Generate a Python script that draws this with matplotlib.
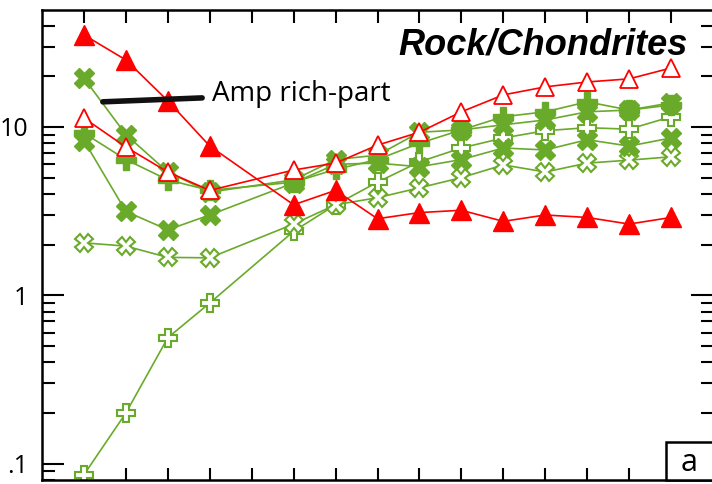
import matplotlib.pyplot as plt
from matplotlib.patches import Rectangle
from matplotlib.ticker import FixedLocator, FuncFormatter

# REE positions (Pm left out, slot 5 stays empty)
elements = ['La', 'Ce', 'Pr', 'Nd', 'Sm', 'Eu', 'Gd', 'Tb', 'Dy', 'Ho', 'Er', 'Tm', 'Yb', 'Lu']
xpos = [1, 2, 3, 4, 6, 7, 8, 9, 10, 11, 12, 13, 14, 15]

red_filled = [35.2, 25.0, 14.3, 7.7, 3.45, 4.2, 2.85, 3.1, 3.2, 2.75, 3.0, 2.9, 2.65, 2.9]
red_open = [11.3, 7.6, 5.4, 4.2, 5.55, 6.1, 7.8, 9.3, 12.3, 15.5, 17.3, 18.5, 19.3, 22.4]

green_x_a = [19.5, 9.0, 5.4, 4.1, 4.85, 6.4, 6.8, 9.3, 9.6, 10.3, 11.0, 12.3, 12.6, 13.9]
green_plus = [9.2, 6.4, 4.85, 4.2, 4.7, 5.6, 6.4, 8.0, 9.6, 11.5, 12.3, 14.1, 12.6, 13.5]
green_x_b = [8.3, 3.15, 2.45, 3.0, 4.65, 6.0, 6.1, 5.8, 6.4, 7.5, 7.3, 8.4, 7.7, 8.6]
green_open_x = [2.05, 1.96, 1.68, 1.67, 2.65, 3.45, 3.8, 4.35, 5.0, 5.95, 5.4, 6.1, 6.35, 6.65]
green_open_plus = [0.086, 0.2, 0.56, 0.9, 2.4, 3.45, 4.7, 6.2, 7.5, 8.6, 9.5, 9.9, 9.7, 11.5]

GREEN = '#6aaa2a'
RED = '#ff0000'

fig = plt.figure(figsize=(7.12, 4.84), dpi=100)
ax = fig.add_axes([42 / 712, 4 / 484, 671 / 712, 470 / 484])

# green samples
ax.plot(xpos, green_open_plus, color=GREEN, lw=1.2, marker='P', ms=12.5,
        mfc='white', mec=GREEN, mew=1.5)
ax.plot(xpos, green_open_x, color=GREEN, lw=1.2, marker='X', ms=12.5,
        mfc='white', mec=GREEN, mew=1.5)
ax.plot(xpos, green_x_b, color=GREEN, lw=1.2, marker='X', ms=14, mec=GREEN, mfc=GREEN)
ax.plot(xpos, green_plus, color=GREEN, lw=1.2, marker='P', ms=14, mec=GREEN, mfc=GREEN)
ax.plot(xpos, green_x_a, color=GREEN, lw=1.2, marker='X', ms=14, mec=GREEN, mfc=GREEN)

# red samples
ax.plot(xpos, red_open, color=RED, lw=1.2, marker='^', ms=13,
        mfc='white', mec=RED, mew=1.3)
ax.plot(xpos, red_filled, color=RED, lw=1.2, marker='^', ms=14, mfc=RED, mec=RED)

ax.set_yscale('log')
ax.set_ylim(0.08, 49.5)
ax.set_xlim(0, 16)

ax.xaxis.set_major_locator(FixedLocator(range(1, 16)))
ax.set_xticklabels([])
ax.tick_params(axis='x', which='both', direction='in', top=True, bottom=True,
               length=9, width=1.5)
ax.tick_params(axis='y', which='major', direction='in', left=True, right=True,
               length=16, width=1.5, labelsize=18, pad=10)
ax.tick_params(axis='y', which='minor', direction='in', left=True, right=True,
               length=9, width=1.5)
ax.yaxis.set_major_formatter(FuncFormatter(
    lambda v, p: {0.1: '.1', 1: '1', 10: '10'}.get(round(v, 3), '')))
for lab in ax.get_yticklabels():
    lab.set_family('Open Sans')

for sp in ax.spines.values():
    sp.set_linewidth(1.8)

ax.text(0.963, 0.926, 'Rock/Chondrites', transform=ax.transAxes, ha='right',
        va='center', fontsize=26, fontweight='bold', fontstyle='italic',
        family='Liberation Sans')

ax.annotate('Amp rich-part', xy=(1.45, 14.1), xytext=(4.05, 15.7),
            fontsize=20, family='Open Sans', va='center', ha='left',
            arrowprops=dict(arrowstyle='-', lw=4, color='#111111',
                            shrinkA=5, shrinkB=0))

# panel label box, white so it hides the ticks behind it
ax.add_patch(Rectangle((0.93, 0), 0.08, 0.081, transform=ax.transAxes,
                       fc='white', lw=1.8, ec='black', clip_on=False, zorder=5))
ax.text(0.964, 0.036, 'a', transform=ax.transAxes, ha='center', va='center',
        fontsize=22, family='Open Sans', zorder=6)

fig.savefig('out.png', dpi=100)
